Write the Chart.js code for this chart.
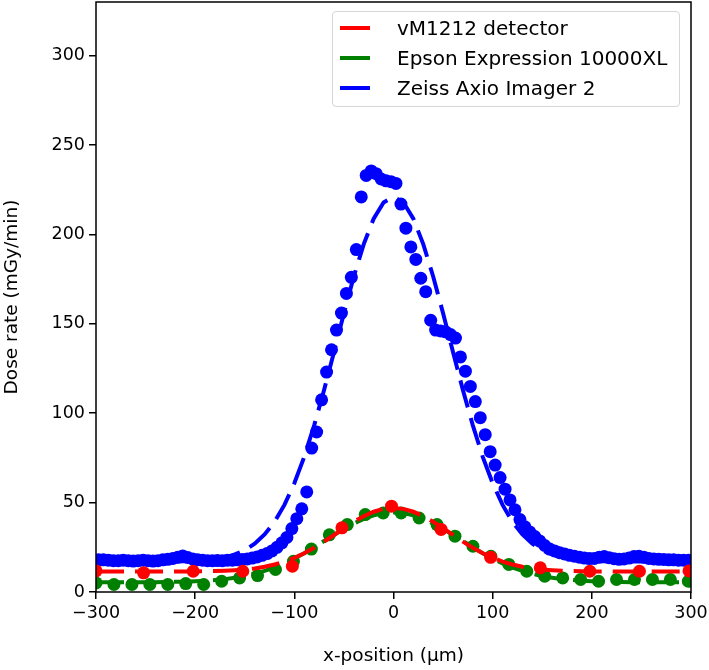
<!DOCTYPE html>
<html>
<head>
<meta charset="utf-8">
<script src="https://cdn.jsdelivr.net/npm/chart.js@4.4.0/dist/chart.umd.min.js"></script>
<style>
  html, body { margin: 0; padding: 0; background: #fff; }
  #wrap { position: relative; width: 709px; height: 670px; }
  #legend {
    position: absolute; left: 332px; top: 11px; width: 348px;
    box-sizing: border-box; padding: 1px 0 3px 0;
    border: 1.5px solid #d6d6d6; border-radius: 4px;
    background: rgba(255, 255, 255, 0.8);
    font-family: 'DejaVu Sans', sans-serif; font-size: 20px; color: #000;
  }
  .row { display: flex; align-items: center; height: 30px; }
  .swatch { width: 30px; height: 4px; margin: 0 27px 0 7px; }
</style>
</head>
<body>
<div id="wrap">
  <canvas id="chart" width="709" height="670"></canvas>
  <div id="legend"></div>
</div>
<script>
// series names / colours (legend order)
const seriesNames = ['vM1212 detector', 'Epson Expression 10000XL', 'Zeiss Axio Imager 2'];
const seriesColors = ['#ff0000', '#008000', '#0000ff'];

const xTicks = [-300, -200, -100, 0, 100, 200, 300];
const yTicks = [0, 50, 100, 150, 200, 250, 300];

// vM1212 detector measurements
const redX = [-300, -252, -202, -152, -102, -52, -2, 48, 98, 148, 198, 248, 298];
const redY = [11.8, 10.7, 11.6, 11.6, 14.4, 35.9, 48, 35, 19.4, 13.5, 11.6, 11.6, 11.8];

// Epson scanner profile
const greenX = [-300, -281.9, -263.8, -245.7, -227.6, -209.5, -191.4, -173.3, -155.2, -137.1,
  -119, -100.9, -82.8, -64.7, -46.6, -28.5, -10.4, 7.7, 25.8, 43.9,
  62, 80.1, 98.2, 116.3, 134.4, 152.5, 170.6, 188.7, 206.8, 224.9,
  243, 261.1, 279.2, 297.3];
const greenY = [5.1, 4.2, 4.2, 4.2, 4.2, 4.7, 4.2, 6, 7.9, 9.2,
  12.6, 17.2, 24, 32, 37.7, 43.3, 44.2, 44.2, 41.4, 37.7,
  31.2, 25.6, 20, 15.4, 11.6, 8.8, 7.9, 7, 6, 7,
  7, 7, 7, 6];

// Zeiss microscope profile
const blueX = [-297.5, -292.5, -287.5, -282.5, -277.5, -272.5, -267.5, -262.5, -257.5, -252.5,
  -247.5, -242.5, -237.5, -232.5, -227.5, -222.5, -217.5, -212.5, -207.5, -202.5,
  -197.5, -192.5, -187.5, -182.5, -177.5, -172.5, -167.5, -162.5, -157.5, -152.5,
  -147.5, -142.5, -137.5, -132.5, -127.5, -122.5, -117.5, -112.5, -107.5, -102.5,
  -97.5, -92.5, -87.5, -82.5, -77.5, -72.5, -67.5, -62.5, -57.5, -52.5,
  -47.5, -42.5, -37.5, -32.5, -27.5, -22.5, -17.5, -12.5, -7.5, -2.5,
  2.5, 7.5, 12.5, 17.5, 22.5, 27.5, 32.5, 37.5, 42.5, 47.5,
  52.5, 57.5, 62.5, 67.5, 72.5, 77.5, 82.5, 87.5, 92.5, 97.5,
  102.5, 107.5, 112.5, 117.5, 122.5, 127.5, 132.5, 137.5, 142.5, 147.5,
  152.5, 157.5, 162.5, 167.5, 172.5, 177.5, 182.5, 187.5, 192.5, 197.5,
  202.5, 207.5, 212.5, 217.5, 222.5, 227.5, 232.5, 237.5, 242.5, 247.5,
  252.5, 257.5, 262.5, 267.5, 272.5, 277.5, 282.5, 287.5, 292.5, 297.5];
const blueY = [18, 18, 17.8, 17.5, 17.5, 17.8, 17.5, 17.3, 17.5, 17.8,
  17.5, 17.3, 17.5, 18, 18.3, 18.8, 19.5, 20.2, 19.3, 18.5,
  18, 17.8, 17.5, 17.5, 17.6, 17.5, 17.8, 17.8, 18, 18.2,
  18.5, 19, 19.6, 20.5, 21.5, 23, 25, 27.5, 30.5, 35.5,
  41, 46.5, 56, 80.5, 89.5, 107.5, 123, 135.5, 146.5, 156,
  167, 176, 191.5, 221, 233, 235.5, 234, 231, 230, 229.5,
  228.5, 217, 203.5, 193, 186, 175.5, 168, 152, 146.5, 146,
  145.5, 144, 142, 131.5, 123.5, 115, 106.5, 97.5, 88, 78.5,
  71, 64, 57.5, 51.5, 46, 40.5, 36.5, 33.5, 31, 28.5,
  26, 24, 23, 22, 21.3, 20.5, 20, 19.5, 19, 18.7,
  18.8, 19.5, 19.8, 19.2, 18.6, 18.3, 18.5, 19, 19.8, 20,
  19.5, 18.8, 18.5, 18.3, 18.2, 18, 18, 17.8, 17.8, 17.8];

// fitted curves
const fitX = [-300, -290, -280, -270, -260, -250, -240, -230, -220, -210,
  -200, -190, -180, -170, -160, -150, -140, -130, -120, -110,
  -100, -90, -80, -70, -60, -50, -40, -30, -20, -10,
  0, 10, 20, 30, 40, 50, 60, 70, 80, 90,
  100, 110, 120, 130, 140, 150, 160, 170, 180, 190,
  200, 210, 220, 230, 240, 250, 260, 270, 280, 290, 300];
const redFit = [11.5, 11.5, 11.5, 11.5, 11.5, 11.5, 11.5, 11.5, 11.5, 11.5,
  11.5, 11.6, 11.7, 11.9, 12.2, 12.6, 13.2, 14.1, 15.4, 17,
  19.1, 21.7, 24.8, 28.2, 31.9, 35.7, 39.3, 42.4, 44.9, 46.5,
  47, 46.5, 44.9, 42.4, 39.3, 35.7, 31.9, 28.2, 24.8, 21.7,
  19.1, 17, 15.4, 14.1, 13.2, 12.6, 12.2, 11.9, 11.7, 11.6,
  11.5, 11.5, 11.5, 11.5, 11.5, 11.5, 11.5, 11.5, 11.5, 11.5, 11.5];
const greenFit = [5.5, 5.5, 5.5, 5.5, 5.5, 5.5, 5.5, 5.6, 5.7, 5.8,
  6, 6.3, 6.7, 7.2, 8, 8.9, 10.2, 11.8, 13.7, 16,
  18.7, 21.7, 25, 28.5, 31.9, 35.3, 38.3, 40.9, 42.9, 44.1,
  44.5, 44.1, 42.9, 40.9, 38.3, 35.3, 31.9, 28.5, 25, 21.7,
  18.7, 16, 13.7, 11.8, 10.2, 8.9, 8, 7.2, 6.7, 6.3,
  6, 5.8, 5.7, 5.6, 5.5, 5.5, 5.5, 5.5, 5.5, 5.5, 5.5];
const blueFit = [17, 17, 17, 17, 17, 17, 17, 17, 17.1, 17.2,
  17.4, 17.8, 18.4, 19.4, 21, 23.4, 27, 32.2, 39.2, 48.7,
  60.8, 75.6, 93.2, 113, 134.2, 155.9, 176.5, 194.6, 208.8, 217.9,
  221, 217.9, 208.8, 194.6, 176.5, 155.9, 134.2, 113, 93.2, 75.6,
  60.8, 48.7, 39.2, 32.2, 27, 23.4, 21, 19.4, 18.4, 17.8,
  17.4, 17.2, 17.1, 17, 17, 17, 17, 17, 17, 17, 17];

const FONT = 'DejaVu Sans';

function pts(xs, ys) {
  return xs.map((x, i) => ({ x, y: ys[i] }));
}

function dots(xs, ys, color, order) {
  return {
    data: pts(xs, ys), showLine: false, order,
    pointRadius: 6.5, pointHoverRadius: 6.5, pointBorderWidth: 0,
    backgroundColor: color, borderColor: color
  };
}

function fitLine(label, ys, color, order) {
  return {
    label, data: pts(fitX, ys), showLine: true, order,
    borderColor: color, borderWidth: 4, borderDash: [28, 11],
    pointRadius: 0, fill: false, tension: 0
  };
}

function minusSign(v) {
  return v < 0 ? '\u2212' + Math.abs(v) : String(v);
}

// full black frame round the plot area
const frame = {
  id: 'frame',
  afterDatasetsDraw(chart) {
    const { ctx, chartArea: a } = chart;
    ctx.save();
    ctx.strokeStyle = '#000';
    ctx.lineWidth = 1.5;
    ctx.strokeRect(a.left, a.top, a.right - a.left, a.bottom - a.top);
    ctx.restore();
  }
};

const axisCommon = {
  type: 'linear',
  grid: { drawOnChartArea: false, drawTicks: true, tickLength: 7, color: '#000', lineWidth: 1.5 },
  border: { display: false },
  ticks: { color: '#000', font: { family: FONT, size: 17.5 }, padding: 4, callback: minusSign }
};

new Chart(document.getElementById('chart'), {
  type: 'scatter',
  data: {
    datasets: [
      fitLine(seriesNames[0], redFit, seriesColors[0], 2),
      dots(redX, redY, seriesColors[0], 3),
      fitLine(seriesNames[1], greenFit, seriesColors[1], 6),
      dots(greenX, greenY, seriesColors[1], 7),
      fitLine(seriesNames[2], blueFit, seriesColors[2], 4),
      dots(blueX, blueY, seriesColors[2], 5)
    ]
  },
  options: {
    responsive: false,
    animation: false,
    devicePixelRatio: 1,
    layout: { autoPadding: false, padding: { top: 2, right: 18, bottom: 0, left: 0 } },
    plugins: { legend: { display: false }, tooltip: { enabled: false } },
    scales: {
      x: {
        ...axisCommon,
        min: -300, max: 300,
        afterBuildTicks: (s) => { s.ticks = xTicks.map((v) => ({ value: v })); },
        afterFit: (s) => { s.height = 78; s.paddingLeft = 0; s.paddingRight = 0; },
        title: { display: true, text: 'x-position (\u03bcm)', color: '#000',
          font: { family: FONT, size: 18.5 }, padding: { top: 0, bottom: 3 } }
      },
      y: {
        ...axisCommon,
        min: 0, max: 330,
        afterBuildTicks: (s) => { s.ticks = yTicks.map((v) => ({ value: v })); },
        afterFit: (s) => { s.width = 96; s.paddingTop = 0; s.paddingBottom = 0; },
        title: { display: true, text: 'Dose rate (mGy/min)', color: '#000',
          font: { family: FONT, size: 18.5 }, padding: { top: 1, bottom: 0 } }
      }
    }
  },
  plugins: [frame]
});

// legend drawn as HTML inside the plot, top right
const legend = document.getElementById('legend');
seriesNames.forEach((name, i) => {
  const row = document.createElement('div');
  row.className = 'row';
  const sw = document.createElement('span');
  sw.className = 'swatch';
  sw.style.background = seriesColors[i];
  const txt = document.createElement('span');
  txt.textContent = name;
  row.appendChild(sw);
  row.appendChild(txt);
  legend.appendChild(row);
});
</script>
</body>
</html>
